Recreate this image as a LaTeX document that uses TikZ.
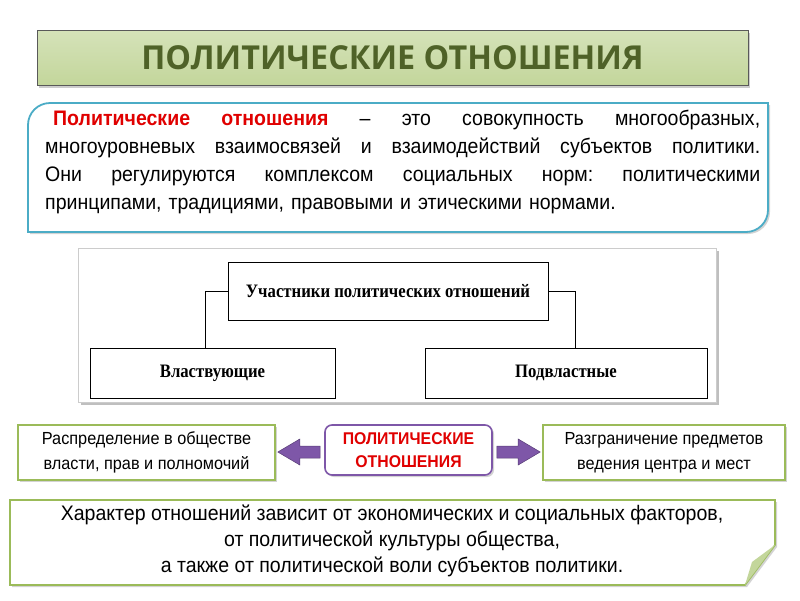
\documentclass[tikz,border=0pt]{standalone}
\usepackage{fontspec}
\setmainfont{Liberation Sans}[FakeStretch=0.93]
\newfontfamily\titlefont{Open Sans}[FakeStretch=0.98]
\newfontfamily\serifb{Liberation Serif}[FakeStretch=0.88]
\usetikzlibrary{shadows,calc}
\definecolor{tgreen}{HTML}{C3D69B}
\definecolor{dgreen}{HTML}{4F6228}
\definecolor{gborder}{HTML}{9BBB59}
\definecolor{teal}{HTML}{4BACC6}
\definecolor{purp}{HTML}{7E57A8}
\definecolor{rred}{HTML}{E00000}
\tikzset{
 gbox/.style={draw=gborder,line width=1.6pt,fill=white,drop shadow={opacity=0.35,shadow xshift=2pt,shadow yshift=-2pt}},
 fbox/.style={draw=black,line width=1pt,fill=white,font=\serifb\bfseries\fontsize{19}{22}\selectfont},
 parrow/.style={fill=purp,draw=purp!70!black,line width=0.5pt}
}
\newcommand\hf{\hfill}
\begin{document}
\begin{tikzpicture}[x=1pt,y=-1pt]
\useasboundingbox (0,0) rectangle (800,600);
% title
\node[draw=gray!70!black,line width=0.6pt,top color=tgreen!70,bottom color=tgreen,minimum width=711pt,minimum height=55pt,drop shadow={opacity=0.4,shadow xshift=2pt,shadow yshift=-3pt},font=\titlefont\bfseries\fontsize{33}{36}\selectfont,text=dgreen] (title) at (392.5,57.5) {ПОЛИТИЧЕСКИЕ ОТНОШЕНИЯ};
% definition
\draw[draw=teal,line width=1.8pt,fill=white,drop shadow={opacity=0.35,shadow xshift=2pt,shadow yshift=-2pt}]
 (28,125) [rounded corners=22pt] -- (28,103) [sharp corners] -- (768,103) -- (768,210) [rounded corners=22pt] -- (768,232) [sharp corners] -- (28,232) -- cycle;
\node[text width=715pt,inner sep=0pt,anchor=north west,font=\fontsize{21}{28}\selectfont] (def) at (45,110)
 {\hspace*{8pt}{\color{rred}\bfseries Политические\hf отношения}\hf –\hf это\hf совокупность\hf многообразных,\\
 многоуровневых\hf взаимосвязей\hf и\hf взаимодействий\hf субъектов\hf политики.\\
 Они\hf регулируются\hf комплексом\hf социальных\hf норм:\hf политическими\\
 принципами, традициями, правовыми и этическими нормами.};
% figure
\node[fill=white,draw=gray!40,minimum width=638pt,minimum height=154pt,drop shadow={opacity=0.5,shadow xshift=3pt,shadow yshift=-3pt}] (fig) at (397,325) {};
\node[fbox,minimum width=320pt,minimum height=58pt] (top) at (388,291) {Участники политических отношений};
\node[fbox,minimum width=245pt,minimum height=50pt] (vl) at (212.5,373) {Властвующие};
\node[fbox,minimum width=282pt,minimum height=50pt] (pv) at (566,373) {Подвластные};
\draw[line width=1pt] (top.west) -| (vl.north -| 205,0);
\draw[line width=1pt] (top.east) -| (pv.north -| 575,0);
% middle row
\node[gbox,minimum width=257pt,minimum height=55pt,align=center,font=\fontsize{17.5}{25}\selectfont] (l) at (146.5,452.5) {Распределение в обществе\\ власти, прав и полномочий};
\node[draw=purp,line width=1.6pt,rounded corners=7pt,fill=white,minimum width=167pt,minimum height=50pt,inner sep=2pt,align=center,drop shadow={opacity=0.35,shadow xshift=2pt,shadow yshift=-2pt},font=\fontsize{17}{23}\selectfont\bfseries,text=rred] (c) at (408.5,450) {ПОЛИТИЧЕСКИЕ\\ ОТНОШЕНИЯ};
\node[gbox,minimum width=242pt,minimum height=55pt,align=center,font=\fontsize{17.5}{25}\selectfont] (r) at (664,452.5) {Разграничение предметов\\ ведения центра и мест};
\coordinate (lt) at (l.east |- 0,452);
\coordinate (rt) at (r.west |- 0,452);
\draw[parrow] ($(lt)+(2,0)$) -- ++(22,-13) -- ++(0,7) -- ($(c.west |- 0,446)+(-4,0)$) -- ++(0,12) -- ($(lt)+(24,6)$) -- ++(0,7) -- cycle;
\draw[parrow] ($(rt)+(-2,0)$) -- ++(-22,-13) -- ++(0,7) -- ($(c.east |- 0,446)+(4,0)$) -- ++(0,12) -- ($(rt)+(-24,6)$) -- ++(0,7) -- cycle;
% bottom
\draw[draw=gborder,line width=1.6pt,fill=white,drop shadow={opacity=0.35,shadow xshift=2pt,shadow yshift=-2pt}]
 (10,500) -- (775,500) -- (775,545) -- (745,585) -- (10,585) -- cycle;
\fill[gborder!60] (775,545) -- (745,585) -- (752,562) -- cycle;
\node[align=center,inner sep=0pt,font=\fontsize{21}{26}\selectfont] (bt) at (392,541) {Характер отношений зависит от экономических  и социальных факторов,\\ от политической культуры общества,\\ а также от политической воли субъектов политики.};
\end{tikzpicture}
\end{document}
